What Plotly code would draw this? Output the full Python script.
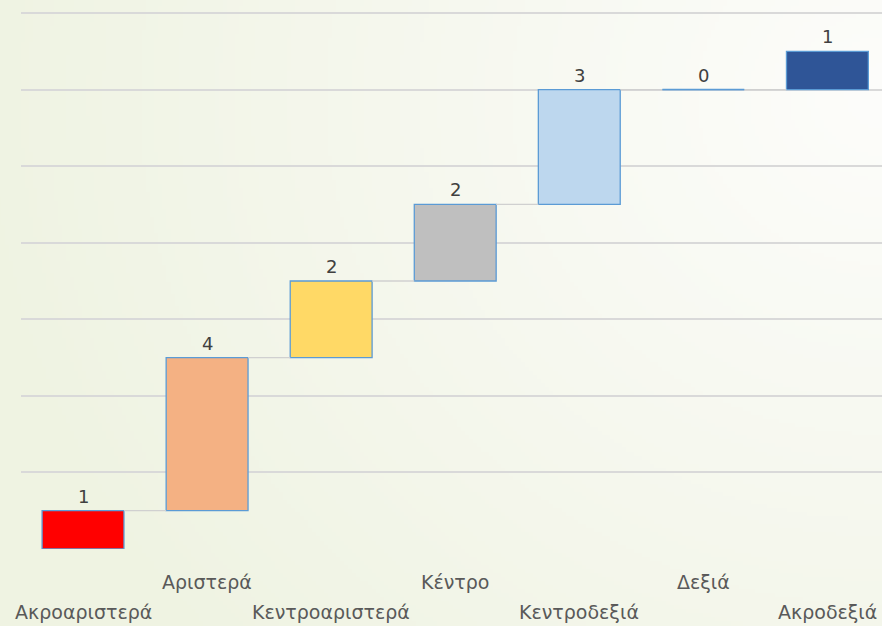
import base64, struct, zlib
import numpy as np
import plotly.graph_objects as go

categories = ["Ακροαριστερά", "Αριστερά", "Κεντροαριστερά", "Κέντρο", "Κεντροδεξιά", "Δεξιά", "Ακροδεξιά"]
values = [1, 4, 2, 2, 3, 0, 1]
bar_colors = ["#FF0000", "#F4B183", "#FFD966", "#BFBFBF", "#BDD7EE", "#5B9BD5", "#2F5597"]
y_ticks = [0, 2, 4, 6, 8, 10, 12, 14]

# background gradient image (greenish left -> white upper right)
W, H = 220, 156
xs = np.linspace(0, 1, W)[None, :]
ys = np.linspace(0, 1, H)[:, None]
d = np.sqrt((1 - xs) ** 2 * 1.0 + (ys - 0.15) ** 2 * 0.6)
t = np.clip(d / 1.05, 0, 1)
c0 = np.array([253, 253, 251])
c1 = np.array([239, 243, 226])
img = (c0[None, None, :] * (1 - t[..., None]) + c1[None, None, :] * t[..., None]).astype(np.uint8)
raw = b"".join(b"\x00" + img[r].tobytes() for r in range(H))
def chunk(tag, data):
    return struct.pack(">I", len(data)) + tag + data + struct.pack(">I", zlib.crc32(tag + data) & 0xffffffff)
png = b"\x89PNG\r\n\x1a\n" + chunk(b"IHDR", struct.pack(">IIBBBBB", W, H, 8, 2, 0, 0, 0)) + chunk(b"IDAT", zlib.compress(raw, 9)) + chunk(b"IEND", b"")
bg_uri = "data:image/png;base64," + base64.b64encode(png).decode()

x = list(range(len(categories)))
bases = list(np.cumsum([0] + values[:-1]))
tops = [b + v for b, v in zip(bases, values)]
bw = 0.66

fig = go.Figure()
fig.add_trace(go.Bar(
    x=x, y=values, base=bases, width=bw,
    marker=dict(color=bar_colors, line=dict(color="#5B9BD5", width=1.3)),
    hoverinfo="skip", showlegend=False,
))

# connectors
cx, cy = [], []
for i in range(len(values) - 1):
    cx += [i + bw / 2, i + 1 - bw / 2, None]
    cy += [tops[i], tops[i], None]
fig.add_trace(go.Scatter(x=cx, y=cy, mode="lines", line=dict(color="#D0D0D0", width=1.3),
                         hoverinfo="skip", showlegend=False))
# zero-height bars drawn as a line
zx, zy = [], []
for i, v in enumerate(values):
    if v == 0:
        zx += [i - bw / 2, i + bw / 2, None]
        zy += [tops[i], tops[i], None]
fig.add_trace(go.Scatter(x=zx, y=zy, mode="lines", line=dict(color="#5B9BD5", width=1.5),
                         hoverinfo="skip", showlegend=False))

annotations = []
# data labels
for i, v in enumerate(values):
    annotations.append(dict(x=i, y=tops[i], xref="x", yref="y", text=str(v), showarrow=False,
                            yanchor="bottom", yshift=2,
                            font=dict(family="DejaVu Sans", size=18, color="#404040")))
# category labels (staggered in two rows)
for i, c in enumerate(categories):
    annotations.append(dict(x=i, y=0, xref="x", yref="paper", text=c, showarrow=False,
                            yanchor="middle", yshift=-33 if i % 2 == 1 else -63,
                            font=dict(family="DejaVu Sans", size=19, color="#595959")))

fig.update_layout(
    width=882, height=626,
    margin=dict(l=21, r=0, t=0, b=77),
    paper_bgcolor="#F6F8F0", plot_bgcolor="rgba(0,0,0,0)",
    images=[dict(source=bg_uri, xref="paper", yref="paper", x=-0.03, y=1.0, sizex=1.03, sizey=1.15,
                 xanchor="left", yanchor="top", sizing="stretch", layer="below")],
    xaxis=dict(range=[-0.5, 6.44], showticklabels=False, showgrid=False, zeroline=False,
               fixedrange=True),
    yaxis=dict(range=[0, 14.34], tickvals=y_ticks, showticklabels=False, showgrid=True,
               gridcolor="#D9D9D9", gridwidth=1.5, zeroline=False, fixedrange=True),
    annotations=annotations,
    bargap=0.34,
)
fig.write_html("out.html", config={"displayModeBar": False},
               post_script="document.body.style.margin='0';document.body.style.padding='0';")
